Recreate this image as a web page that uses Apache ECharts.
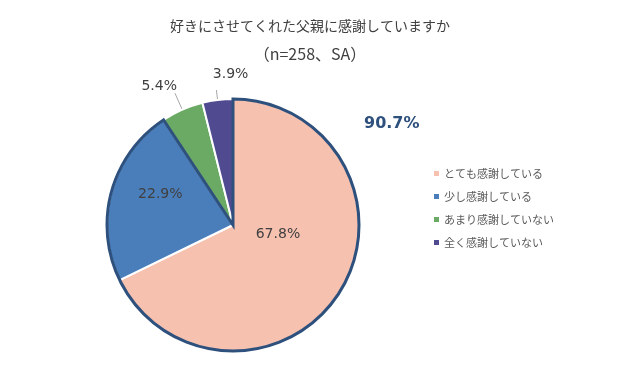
<!DOCTYPE html>
<html lang="ja">
<head>
<meta charset="UTF-8">
<title>好きにさせてくれた父親に感謝していますか</title>
<script src="https://cdn.jsdelivr.net/npm/echarts@6/dist/echarts.min.js"></script>
<style>
  html, body { margin: 0; padding: 0; background: #fff; }
  #chart { width: 620px; height: 376px; }
</style>
</head>
<body>
<div id="chart"></div>
<script>
// データ
const categories = ['とても感謝している', '少し感謝している', 'あまり感謝していない', '全く感謝していない'];
const values = [67.8, 22.9, 5.4, 3.9];
const colors = ['#F7C1B0', '#4A7EBB', '#6AAA64', '#504B91'];
const totalLabel = '90.7%';  // とても + 少し

const chart = echarts.init(document.getElementById('chart'));

const numFont = 'DejaVu Sans, Noto Sans CJK JP, sans-serif';
const jpFont = 'Noto Sans CJK JP, sans-serif';

// ラベル位置の微調整 (Excel 風)
const labelShift = [[-11, -26], [-9, -13], [7, -7], [37, -16]];

const option = {
  animation: false,
  title: {
    text: '好きにさせてくれた父親に感謝していますか',
    subtext: '（n=258、SA）',
    left: 'center',
    top: 14,
    itemGap: 13,
    textStyle: { fontFamily: jpFont, fontSize: 14, fontWeight: 'normal', color: '#404040' },
    subtextStyle: { fontFamily: jpFont, fontSize: 16, color: '#404040' }
  },
  legend: {
    orient: 'vertical',
    left: 429,
    top: 163,
    icon: 'rect',
    itemWidth: 5,
    itemHeight: 5,
    itemGap: 12,
    itemStyle: { borderWidth: 0 },
    textStyle: { fontFamily: jpFont, fontSize: 11, color: '#595959' },
    data: categories
  },
  graphic: [{
    type: 'text',
    left: 364,
    top: 116,
    style: { text: totalLabel, fontFamily: numFont, fontSize: 16, fontWeight: 'bold', fill: '#2E507D' }
  }],
  series: [{
    type: 'pie',
    center: [233, 225],
    radius: 126,
    startAngle: 90,
    clockwise: true,
    avoidLabelOverlap: false,
    itemStyle: { borderColor: '#fff', borderWidth: 2 },
    label: {
      fontFamily: numFont, fontSize: 14, color: '#404040',
      formatter: p => p.value.toFixed(1) + '%'
    },
    labelLine: { lineStyle: { color: '#A6A6A6', width: 1 } },
    labelLayout: p => ({ dx: labelShift[p.dataIndex][0], dy: labelShift[p.dataIndex][1] }),
    data: categories.map((name, i) => ({
      name: name,
      value: values[i],
      itemStyle: { color: colors[i] },
      label: i < 2 ? { position: 'inside' } : { position: 'outside' },
      labelLine: i < 2 ? { show: false } : { show: true, length: i === 2 ? 18 : 10, length2: 0 }
    }))
  }, {
    // 「感謝している」合計の枠線
    type: 'pie',
    center: [233, 225],
    radius: 126,
    startAngle: 90,
    clockwise: true,
    silent: true,
    label: { show: false },
    labelLine: { show: false },
    legendHoverLink: false,
    data: [
      { name: 'sum', value: values[0] + values[1],
        itemStyle: { color: 'rgba(0,0,0,0)', borderColor: '#2E507D', borderWidth: 3, borderJoin: 'miter' } },
      { name: 'rest', value: values[2] + values[3],
        itemStyle: { color: 'rgba(0,0,0,0)', borderWidth: 0 } }
    ]
  }]
};

chart.setOption(option);
</script>
</body>
</html>
